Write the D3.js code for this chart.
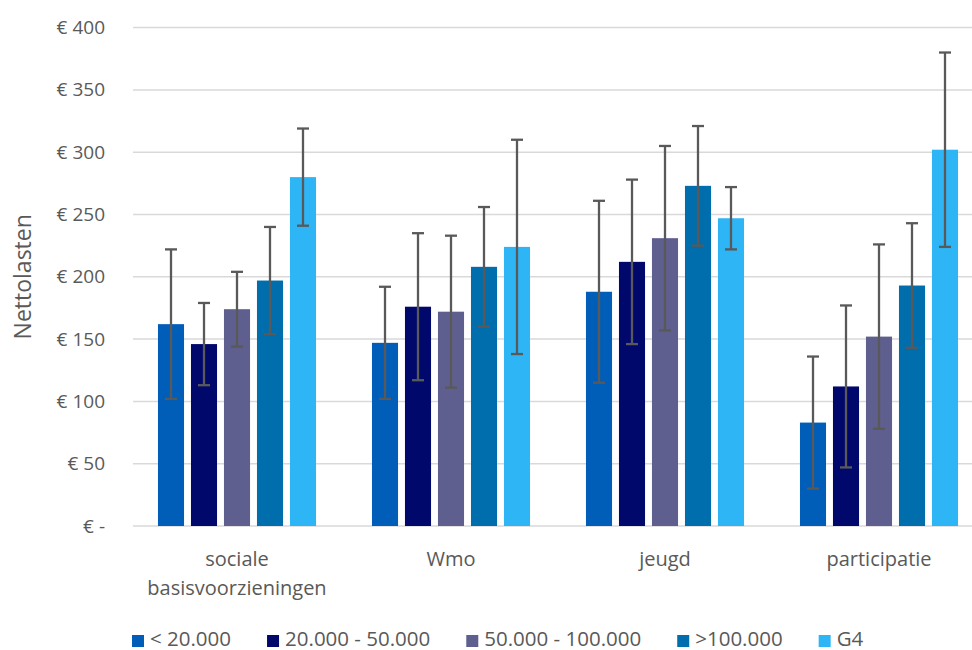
<!DOCTYPE html>
<html>
<head>
<meta charset="utf-8">
<script src="https://cdn.jsdelivr.net/npm/d3@7"></script>
<style>
  html, body { margin: 0; padding: 0; background: #fff; }
  svg { display: block; font-family: "Open Sans", Lato, sans-serif; }
</style>
</head>
<body>
<svg id="chart" width="972" height="650"></svg>
<script>
// ---- data ----
const categories = ["sociale basisvoorzieningen", "Wmo", "jeugd", "participatie"];
const seriesNames = ["< 20.000", "20.000 - 50.000", "50.000 - 100.000", ">100.000", "G4"];
const seriesColors = ["#005EB8", "#00086C", "#5E5E8F", "#006EAD", "#2EB5F5"];
const valuesLt20    = [162, 147, 188, 83];
const values20to50  = [146, 176, 212, 112];
const values50to100 = [174, 172, 231, 152];
const valuesGt100   = [197, 208, 273, 193];
const valuesG4      = [280, 224, 247, 302];
const errLt20    = [60, 45, 73, 53];
const err20to50  = [33, 59, 66, 65];
const err50to100 = [30, 61, 74, 74];
const errGt100   = [43, 48, 48, 50];
const errG4      = [39, 86, 25, 78];
const yTicks = [0, 50, 100, 150, 200, 250, 300, 350, 400];
const yTitle = "Nettolasten";

const seriesValues = [valuesLt20, values20to50, values50to100, valuesGt100, valuesG4];
const seriesErrors = [errLt20, err20to50, err50to100, errGt100, errG4];

// ---- layout ----
const svg = d3.select("#chart");
const textColor = "#595959";
const plot = { left: 130, right: 986, top: 27.6, bottom: 526 };

const y = d3.scaleLinear().domain([0, 400]).range([plot.bottom, plot.top]);
const x0 = d3.scaleBand().domain(categories).range([plot.left, plot.right])
  .paddingInner(0.229).paddingOuter(0.1145);
const x1 = d3.scaleBand().domain(seriesNames).range([0, x0.bandwidth()]).padding(0.21).paddingOuter(0.105);

// gridlines
const grid = svg.append("g");
grid.selectAll("line").data(yTicks).join("line")
  .attr("x1", 133).attr("x2", 972)
  .attr("y1", d => y(d)).attr("y2", d => y(d))
  .attr("stroke", "#D9D9D9").attr("stroke-width", 1.5);

// y axis labels
const yAxis = d3.axisLeft(y).tickValues(yTicks).tickSize(0).tickPadding(0)
  .tickFormat(d => d === 0 ? "€ -" : "€ " + d);
const yg = svg.append("g").attr("transform", "translate(105,0)").call(yAxis);
yg.select(".domain").remove();
yg.selectAll("text").attr("fill", textColor).style("font-size", "19px")
  .style("font-family", "'Open Sans', sans-serif");

// y title
svg.append("text")
  .attr("transform", `translate(31,${(plot.top + plot.bottom) / 2}) rotate(-90)`)
  .attr("text-anchor", "middle")
  .attr("fill", textColor).style("font-size", "23px")
  .text(yTitle);

// bars
const rows = [];
categories.forEach((c, ci) => {
  seriesNames.forEach((s, si) => {
    rows.push({ cat: c, ser: s, si, v: seriesValues[si][ci], e: seriesErrors[si][ci] });
  });
});

svg.append("g").selectAll("rect").data(rows).join("rect")
  .attr("x", d => x0(d.cat) + x1(d.ser))
  .attr("width", x1.bandwidth())
  .attr("y", d => y(d.v))
  .attr("height", d => y(0) - y(d.v))
  .attr("fill", d => seriesColors[d.si]);

// error bars
const eg = svg.append("g").attr("stroke", "#595959").attr("stroke-width", 2.3);
const cap = 6;
rows.forEach(d => {
  const cx = x0(d.cat) + x1(d.ser) + x1.bandwidth() / 2;
  eg.append("line").attr("x1", cx).attr("x2", cx).attr("y1", y(d.v + d.e)).attr("y2", y(d.v - d.e));
  eg.append("line").attr("x1", cx - cap).attr("x2", cx + cap).attr("y1", y(d.v + d.e)).attr("y2", y(d.v + d.e));
  eg.append("line").attr("x1", cx - cap).attr("x2", cx + cap).attr("y1", y(d.v - d.e)).attr("y2", y(d.v - d.e));
});

// x labels (wrap if wider than band step)
const xg = svg.append("g");
categories.forEach(c => {
  const cx = x0(c) + x0.bandwidth() / 2;
  const t = xg.append("text").attr("text-anchor", "middle").attr("fill", textColor)
    .style("font-size", "20px").attr("x", cx).attr("y", 566);
  t.text(c);
  if (t.node().getComputedTextLength() > x0.step()) {
    t.text(null);
    c.split(" ").forEach((w, i) => {
      t.append("tspan").attr("x", cx).attr("y", 566 + i * 29).text(w);
    });
  }
});

// legend
const lg = svg.append("g");
let lx = 132;
seriesNames.forEach((s, i) => {
  lg.append("rect").attr("x", lx).attr("y", 635).attr("width", 12).attr("height", 12)
    .attr("fill", seriesColors[i]);
  const t = lg.append("text").attr("x", lx + 18).attr("y", 645.5).attr("fill", textColor)
    .style("font-size", "20.5px").text(s);
  lx += 18 + t.node().getComputedTextLength() + 36;
});
</script>
</body>
</html>
